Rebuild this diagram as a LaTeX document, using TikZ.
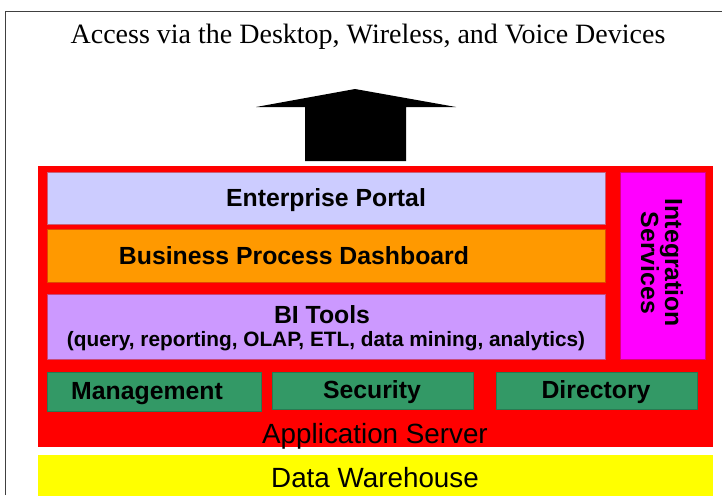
\documentclass[tikz,border=0pt]{standalone}
\usepackage{fontspec}
\setmainfont{Liberation Serif}
\setsansfont{Liberation Sans}
\definecolor{portal}{HTML}{CCCCFF}
\definecolor{dash}{HTML}{FF9900}
\definecolor{bitools}{HTML}{CC99FF}
\definecolor{integ}{HTML}{FF00FF}
\definecolor{svc}{HTML}{339966}
\definecolor{appred}{HTML}{FF0000}
\definecolor{dwyellow}{HTML}{FFFF00}
\tikzset{
  layer/.style={draw=#1!80!black!60!red, line width=0.6pt, fill=#1, anchor=north west, inner sep=0pt},
  svcbox/.style={fill=svc, draw=svc!80!black, line width=0.6pt, anchor=north west, inner sep=0pt},
  boldlbl/.style={font=\sffamily\bfseries\fontsize{24.8}{26}\selectfont, anchor=base},
  plainlbl/.style={font=\sffamily\fontsize{27.8}{30}\selectfont, anchor=base},
}
\begin{document}
\begin{tikzpicture}[x=1pt,y=-1pt]
\useasboundingbox (0,0) rectangle (722,495);
% frame
\draw[line width=1pt, black!75] (5,495) -- (5,12) -- (722,12);
% title
\node[font=\fontsize{28}{30}\selectfont, anchor=base] (title) at (368,44) {Access via the Desktop, Wireless, and Voice Devices};
% upward arrow
\fill (305,161) -- (305,107) -- (256,107) -- (355,89) -- (456,107) -- (406,107) -- (406,161) -- cycle;
% application server block
\node[fill=appred, anchor=north west, minimum width=675pt, minimum height=281pt, inner sep=0pt] (app) at (38,166) {};
\node[layer=portal, minimum width=558pt, minimum height=52pt] (portal) at (47,172) {};
\node[boldlbl] (portaltxt) at (326,206) {Enterprise Portal};
\node[layer=dash, minimum width=558pt, minimum height=53pt] (dashbd) at (47,229) {};
\node[boldlbl] (dashtxt) at (294,264) {Business Process Dashboard};
\node[layer=bitools, minimum width=558pt, minimum height=65pt] (bi) at (47,294) {};
\node[boldlbl] (bitxt) at (322,323) {BI Tools};
\node[font=\sffamily\bfseries\fontsize{20.8}{22}\selectfont, anchor=base] (bisub) at (326,346) {(query, reporting, OLAP, ETL, data mining, analytics)};
\node[layer=integ, minimum width=85pt, minimum height=187pt] (integ) at (620,172) {};
\node[font=\sffamily\bfseries\fontsize{24.8}{24}\selectfont, rotate=-90, align=center] (integtxt) at (662,263) {Integration\\Services};
\node[svcbox, minimum width=214pt, minimum height=39pt] (mgmt) at (47,372) {};
\node[boldlbl] (mgmttxt) at (147,399) {Management};
\node[svcbox, minimum width=201pt, minimum height=37pt] (sec) at (272,372) {};
\node[boldlbl] (sectxt) at (372,398) {Security};
\node[svcbox, minimum width=201pt, minimum height=37pt] (dir) at (496,372) {};
\node[boldlbl] (dirtxt) at (596,398) {Directory};
\node[plainlbl] (apptxt) at (375,443) {Application Server};
% data warehouse
\node[fill=dwyellow, anchor=north west, minimum width=675pt, minimum height=45pt, inner sep=0pt] (dw) at (38,455) {};
\node[plainlbl] (dwtxt) at (375,487) {Data Warehouse};
\end{tikzpicture}
\end{document}
